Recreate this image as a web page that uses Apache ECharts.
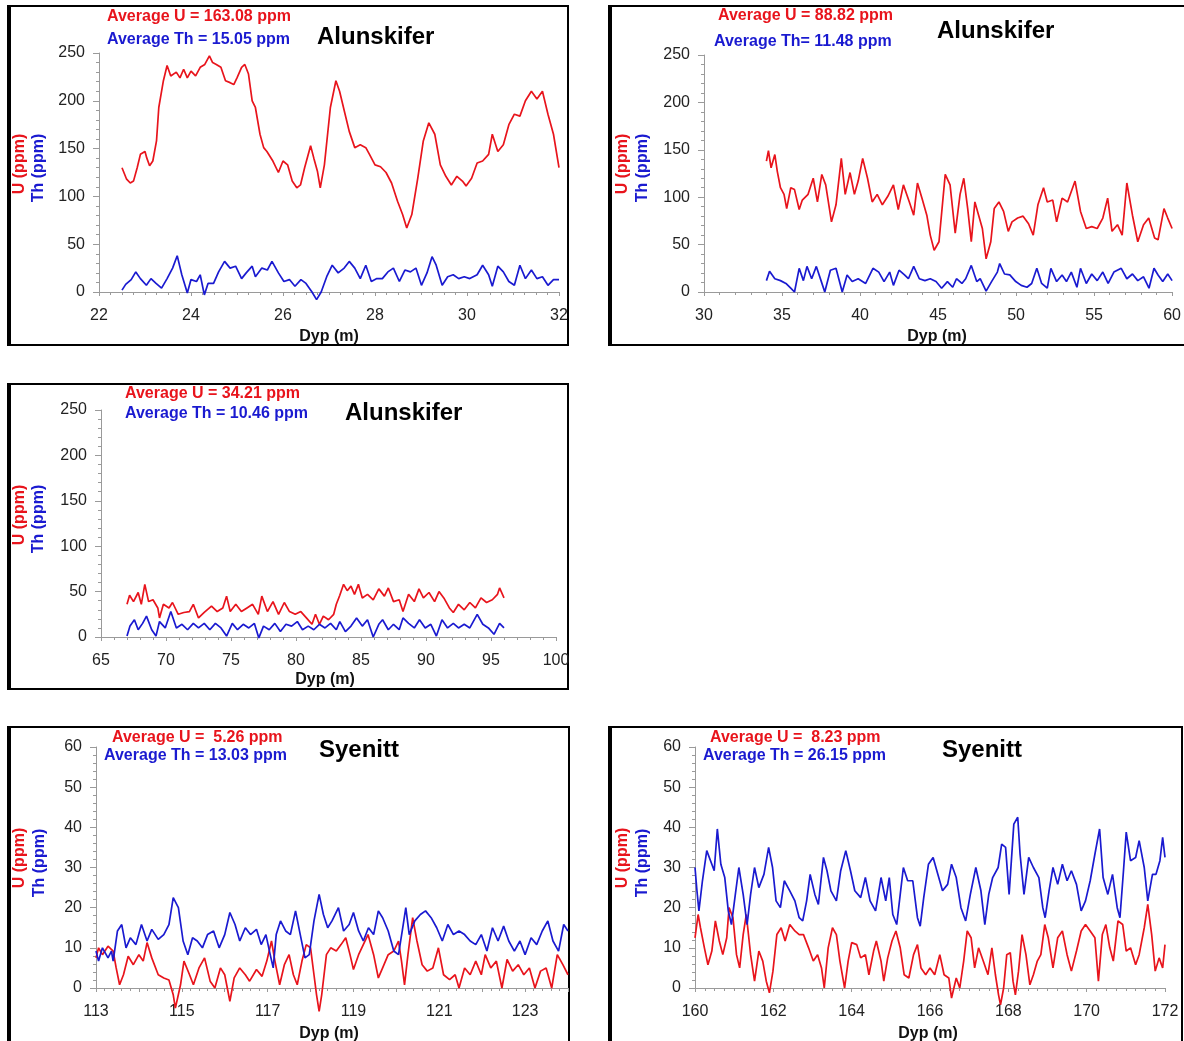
<!DOCTYPE html>
<html>
<head>
<meta charset="utf-8">
<title>U og Th langs borehull</title>
<script src="https://cdn.jsdelivr.net/npm/echarts@6/dist/echarts.min.js"></script>
<style>
  html, body { margin: 0; padding: 0; background: #fff; }
  #chart { width: 1184px; height: 1041px; }
</style>
</head>
<body>
<div id="chart"></div>
<script>
// ---------- Panel 1: Alunskifer, 22–32 m ----------
const p1UDepth = [22.5,22.6,22.68,22.75,22.83,22.9,23.0,23.04,23.1,23.17,23.25,23.3,23.4,23.48,23.56,23.68,23.76,23.84,23.92,24.0,24.1,24.2,24.3,24.4,24.47,24.55,24.65,24.75,24.85,24.93,25.0,25.1,25.17,25.25,25.33,25.4,25.5,25.58,25.65,25.78,25.9,26.0,26.1,26.2,26.3,26.38,26.47,26.6,26.67,26.75,26.81,26.9,27.03,27.15,27.23,27.35,27.44,27.56,27.68,27.8,27.88,28.0,28.12,28.24,28.36,28.49,28.6,28.69,28.8,28.93,29.05,29.17,29.3,29.42,29.54,29.66,29.78,29.9,29.98,30.1,30.22,30.34,30.47,30.55,30.67,30.79,30.91,31.03,31.15,31.27,31.4,31.52,31.64,31.76,31.88,32.0];
const p1U = [130,118,114,116,130,144,147,140,132,137,158,193,221,237,226,230,224,233,224,231,226,235,238,247,240,238,235,221,219,217,224,235,238,228,200,193,165,151,147,137,125,137,133,116,109,112,130,153,140,126,109,133,193,221,210,186,168,151,154,151,144,133,131,125,114,95,81,67,81,119,158,177,165,133,121,112,121,116,111,119,135,137,144,165,147,154,175,186,184,200,210,202,210,186,165,130];
const p1ThDepth = [22.5,22.58,22.7,22.8,22.9,23.03,23.13,23.24,23.36,23.48,23.6,23.7,23.8,23.92,24.0,24.12,24.2,24.29,24.37,24.49,24.6,24.73,24.85,24.97,25.1,25.2,25.33,25.4,25.54,25.66,25.76,25.9,26.02,26.14,26.26,26.39,26.5,26.63,26.73,26.83,26.95,27.07,27.2,27.33,27.44,27.56,27.68,27.8,27.92,28.04,28.16,28.28,28.4,28.53,28.65,28.77,28.89,29.01,29.13,29.24,29.33,29.46,29.58,29.7,29.82,29.94,30.06,30.22,30.34,30.47,30.55,30.67,30.79,30.91,31.03,31.15,31.27,31.4,31.52,31.64,31.76,31.88,32.0];
const p1Th = [2,8,13,21,14,7,14,9,4,14,25,38,18,-1,13,11,18,-3,9,9,21,32,25,27,14,20,27,16,25,23,32,20,11,13,6,13,9,0,-8,0,16,28,20,25,32,25,14,28,11,14,14,21,25,11,23,21,25,7,20,37,28,7,16,18,14,16,14,18,28,18,6,27,21,11,7,28,14,23,14,16,7,13,13];

// ---------- Panel 2: Alunskifer, 30–60 m ----------
const p2UDepth = [34.0,34.13,34.3,34.54,34.7,34.9,35.13,35.3,35.56,35.8,36.1,36.3,36.67,37.0,37.27,37.55,37.8,38.17,38.46,38.8,39.05,39.36,39.64,39.88,40.17,40.48,40.78,41.1,41.43,41.78,42.14,42.45,42.78,43.16,43.44,43.68,43.97,44.28,44.5,44.75,45.06,45.46,45.77,46.1,46.41,46.65,46.9,47.13,47.36,47.6,47.84,48.08,48.38,48.6,48.9,49.2,49.5,49.74,50.1,50.45,50.8,51.1,51.4,51.76,52.0,52.35,52.6,52.95,53.3,53.78,54.13,54.5,54.85,55.2,55.56,55.87,56.15,56.5,56.8,57.1,57.46,57.8,58.17,58.5,58.88,59.1,59.48,59.72,60.0];
const p2U = [138,149,131,145,127,110,103,88,110,108,87,97,103,120,95,124,113,74,92,141,103,126,103,117,141,120,95,103,92,101,113,87,113,95,81,115,99,81,60,44,53,124,113,62,103,120,88,53,95,81,67,35,53,88,95,85,64,74,78,80,72,60,92,110,95,97,74,99,95,117,85,67,69,67,78,99,64,71,60,115,81,53,71,78,57,55,88,78,67];
const p2ThDepth = [34.0,34.2,34.54,34.9,35.25,35.56,35.8,36.1,36.37,36.6,36.9,37.2,37.5,37.74,38.1,38.46,38.86,39.17,39.5,39.88,40.36,40.83,41.2,41.54,41.9,42.14,42.5,42.85,43.1,43.44,43.8,44.16,44.5,44.87,45.23,45.6,45.94,46.18,46.53,46.77,47.13,47.48,47.7,48.08,48.43,48.8,48.95,49.26,49.6,49.98,50.33,50.7,51.0,51.33,51.64,52.0,52.23,52.6,52.95,53.23,53.54,53.9,54.13,54.5,54.85,55.2,55.56,55.9,56.27,56.74,57.1,57.46,57.8,58.17,58.52,58.84,59.1,59.4,59.72,60.0];
const p2Th = [12,22,14,12,9,4,0,25,12,27,14,27,12,0,23,25,0,18,11,14,9,25,21,11,21,7,23,18,14,27,14,12,14,11,4,11,5,14,9,14,28,11,14,1,11,21,30,19,18,11,7,5,9,25,9,4,25,11,18,11,21,5,25,9,19,12,21,9,21,25,14,19,12,16,4,25,18,11,19,12];

// ---------- Panel 3: Alunskifer, 65–100 m ----------
const p3UDepth = [67.0,67.2,67.5,67.86,68.1,68.37,68.66,69.0,69.37,69.5,69.8,70.23,70.5,70.94,71.37,71.8,72.1,72.5,72.94,73.5,73.94,74.37,74.66,74.94,75.37,75.8,76.23,76.66,77.1,77.37,77.8,78.23,78.66,79.1,79.5,79.94,80.37,80.8,81.23,81.5,81.8,82.1,82.5,82.9,83.1,83.37,83.66,83.94,84.23,84.5,84.8,85.1,85.5,85.94,86.37,86.8,87.1,87.5,87.94,88.23,88.66,89.1,89.46,89.8,90.23,90.66,91.0,91.37,91.8,92.1,92.5,92.94,93.37,93.8,94.23,94.66,95.1,95.5,95.66,96.0];
const p3U = [36,46,39,49,36,58,39,41,32,21,36,32,38,25,27,28,36,21,27,34,28,32,45,28,36,28,32,36,25,45,28,39,25,38,28,25,28,21,14,25,14,23,19,25,36,46,58,51,56,47,58,43,47,41,53,45,54,39,41,28,47,39,53,43,49,39,50,43,32,27,36,30,38,32,43,38,41,47,54,43];
const p3ThDepth = [67.0,67.23,67.57,67.86,68.2,68.5,68.9,69.23,69.5,69.94,70.37,70.8,71.23,71.66,72.1,72.5,72.94,73.37,73.8,74.23,74.66,75.1,75.5,75.94,76.37,76.8,77.14,77.5,77.94,78.37,78.8,79.23,79.66,80.1,80.5,80.94,81.37,81.8,82.23,82.66,83.1,83.37,83.8,84.23,84.66,85.1,85.5,85.94,86.37,86.66,87.1,87.5,87.94,88.23,88.66,89.1,89.5,89.94,90.37,90.8,91.23,91.66,92.1,92.5,92.94,93.37,93.94,94.37,94.8,95.23,95.66,96.0];
const p3Th = [1,12,19,8,15,23,8,1,17,10,28,10,14,8,15,10,15,8,15,10,1,15,8,14,10,15,-1,12,8,15,6,14,12,17,8,12,8,14,10,15,8,17,6,12,21,12,19,0,14,19,8,14,8,21,15,10,19,10,14,1,19,10,15,10,14,10,25,14,10,3,15,10];

// ---------- Panel 4: Syenitt, 113–124 m ----------
const p4UDepth = [113.0,113.06,113.15,113.28,113.4,113.47,113.55,113.64,113.75,113.87,114.0,114.1,114.19,114.3,114.45,114.58,114.7,114.8,114.85,114.97,115.05,115.18,115.27,115.4,115.53,115.66,115.77,115.9,116.0,116.12,116.22,116.35,116.48,116.58,116.74,116.87,116.98,117.09,117.17,117.28,117.39,117.5,117.6,117.69,117.8,117.9,118.0,118.08,118.14,118.2,118.26,118.37,118.47,118.6,118.71,118.82,118.92,119.0,119.12,119.23,119.34,119.47,119.58,119.68,119.81,119.94,120.05,120.12,120.19,120.27,120.38,120.48,120.6,120.72,120.85,120.98,121.1,121.24,121.37,121.46,121.59,121.72,121.85,121.98,122.07,122.2,122.33,122.46,122.58,122.71,122.84,122.97,123.1,123.23,123.36,123.49,123.62,123.75,123.88,124.0];
const p4U = [7.5,10,8.3,10.4,9.2,5,0.8,3.3,7.9,5.8,8.3,6.7,11.3,7.5,3.3,2.5,2,-1.7,-5,0.8,6.7,3.3,0.8,5,7.5,1.7,0,5,3.3,-3.3,2.5,5,3.3,1.7,4.6,2.9,6.7,11.7,6.7,0.8,5.8,8.3,3.3,0.8,6.7,10.8,10,3.3,-1.7,-5.8,-1.7,8.3,10,9.2,10.8,12.5,8.3,4.6,8.3,10.8,13.3,8.3,2.5,5,8.3,9.2,11.7,6.7,0.8,8.3,17.5,11.7,5.8,4.2,5,10,3.3,2.1,3.3,0,5,3.3,6.7,3.3,8.3,5,6.7,0,7.1,4.2,5.8,3.3,5,0,4.2,5,0,8.3,5.8,3.3];
const p4ThDepth = [113.0,113.06,113.15,113.28,113.36,113.4,113.5,113.6,113.7,113.8,113.93,114.06,114.19,114.3,114.45,114.58,114.7,114.8,114.92,115.03,115.14,115.25,115.36,115.48,115.6,115.74,115.87,116.0,116.12,116.24,116.35,116.48,116.6,116.74,116.85,116.96,117.06,117.13,117.2,117.3,117.42,117.53,117.65,117.76,117.87,117.97,118.08,118.2,118.3,118.4,118.5,118.65,118.77,118.9,119.0,119.12,119.23,119.35,119.47,119.58,119.68,119.81,119.94,120.05,120.16,120.22,120.3,120.43,120.56,120.68,120.81,120.94,121.07,121.2,121.33,121.46,121.59,121.72,121.85,121.98,122.11,122.24,122.37,122.5,122.62,122.75,122.88,123.0,123.14,123.27,123.4,123.53,123.65,123.78,123.9,124.0];
const p4Th = [9.2,6.7,10,7.5,9.2,6.7,14.2,15.8,10,12.5,10.8,15.8,11.7,14.6,12.1,13.3,15.8,22.5,20,11.7,8.3,12.5,11.7,10,13.3,14.2,10,13.3,18.8,15.8,11.7,15,13.3,14.6,10.8,13.3,8.3,5,13.3,16.7,14.2,13.3,19.2,13.3,7.5,8.3,16.7,23.3,18.3,15,16.7,20,14.2,15.8,18.8,14.2,11.7,15,13.3,19.2,17.5,14.2,9.2,8.3,15.8,20,13.3,16.7,18.3,19.2,17.5,15,11.7,15.8,13.3,14.2,13.3,11.7,10.8,13.3,9.2,15,11.7,15.4,11.7,9.2,11.7,8.3,12.5,10.8,14.2,16.7,11.7,9.2,15.8,14.2];

// ---------- Panel 5: Syenitt, 160–172 m ----------
const p5UDepth = [160.0,160.08,160.14,160.24,160.33,160.43,160.52,160.62,160.71,160.81,160.87,160.97,161.06,161.14,161.23,161.31,161.42,161.52,161.63,161.73,161.82,161.9,161.99,162.09,162.2,162.3,162.42,162.55,162.66,162.77,162.9,163.02,163.13,163.23,163.3,163.4,163.51,163.61,163.7,163.82,163.91,164.0,164.13,164.23,164.35,164.44,164.56,164.63,164.75,164.82,164.92,165.03,165.13,165.24,165.34,165.46,165.58,165.68,165.77,165.89,166.0,166.12,166.25,166.36,166.48,166.55,166.67,166.76,166.86,166.95,167.05,167.14,167.24,167.36,167.48,167.58,167.67,167.75,167.8,167.88,167.96,168.05,168.12,168.18,168.26,168.35,168.45,168.55,168.64,168.74,168.83,168.93,169.02,169.14,169.26,169.38,169.5,169.61,169.74,169.86,169.97,170.09,170.21,170.3,170.4,170.49,170.59,170.68,170.8,170.92,171.01,171.12,171.25,171.34,171.47,171.56,171.66,171.75,171.85,171.94,172.0];
const p5U = [12.5,18.3,15,10,5.8,9.2,16.7,11.7,8.3,12.5,20,17.5,8.3,5,13.3,18.3,8.3,1.7,9.2,6.7,1.7,-1.2,4.2,13.3,15,11.7,15.8,14.2,13.3,13.3,10,6.7,8.3,5,0,10,15,13.3,6.7,0,6.7,11.3,10.8,7.5,8.3,3.3,9.2,11.7,6.7,1.7,7.5,11.7,14.2,10,3.3,2.5,8.3,10.8,5,3.3,5,3.3,8.3,3.3,2.5,-2.5,2.5,0,6.7,14.2,12.5,5,10,6.7,3.3,10,3.3,-1.7,-4.2,0,8.3,8.8,1.7,-1.7,4.2,13.3,8.3,0.8,3.3,6.7,8.3,15.8,12.5,5,12.5,14.2,8.3,4.2,9.2,14.2,15.8,14.2,12.5,1.7,13.3,15.8,10,6.7,16.7,15.8,9.2,10,5.8,8.3,15,20.8,13.3,4.2,7.5,5,10.8];
const p5ThDepth = [160.0,160.05,160.1,160.19,160.3,160.43,160.49,160.57,160.66,160.76,160.85,160.93,161.03,161.12,161.23,161.33,161.42,161.52,161.63,161.76,161.88,161.98,162.07,162.18,162.28,162.42,162.55,162.66,162.75,162.85,162.94,163.06,163.15,163.28,163.37,163.47,163.61,163.72,163.85,163.97,164.08,164.23,164.35,164.47,164.61,164.75,164.87,164.96,165.05,165.15,165.24,165.32,165.43,165.56,165.68,165.75,165.84,165.96,166.08,166.2,166.32,166.45,166.55,166.67,166.79,166.91,167.03,167.17,167.3,167.4,167.5,167.6,167.74,167.83,167.93,168.02,168.14,168.24,168.3,168.4,168.52,168.64,168.78,168.88,168.94,169.04,169.14,169.26,169.38,169.5,169.61,169.74,169.86,169.97,170.09,170.21,170.33,170.42,170.54,170.66,170.78,170.85,170.94,171.01,171.12,171.25,171.34,171.47,171.56,171.68,171.77,171.87,171.94,172.0];
const p5Th = [30,24.2,19.2,26.7,34.2,30.8,29.2,39.6,30.8,27.5,19.2,15.8,23.3,30,23.3,15.8,23.3,30,25,28.3,35,30,21.7,20,26.7,24.2,21.7,17.5,16.7,21.7,28.3,23.3,20.8,32.5,29.2,24.2,21.7,29.2,34.2,29.2,24.2,22.5,27.5,21.7,19.2,27.5,21.7,27.5,18.3,15.8,23.3,30,26.7,26.7,17.5,15.4,22.5,30.8,32.5,28.3,24.2,25.8,30.8,27.5,20,16.7,23.3,30,24.2,15.8,23.3,27.5,30,35.8,35,23.3,40.8,42.5,33.3,23.3,32.5,30,27.5,20,17.5,24.2,30,25.8,30.8,26.7,29.2,25.8,19.2,21.7,26.7,33.3,39.6,27.5,23.3,28.3,20,17.5,29.2,38.8,31.7,32.5,36.7,30,21.7,28.3,28.3,31.7,37.5,32.5];

// ---------- Panel texts ----------
const panelTitles = ['Alunskifer', 'Alunskifer', 'Alunskifer', 'Syenitt', 'Syenitt'];
const avgULabels = ['Average U = 163.08 ppm', 'Average U = 88.82 ppm', 'Average U = 34.21 ppm', 'Average U =  5.26 ppm', 'Average U =  8.23 ppm'];
const avgThLabels = ['Average Th = 15.05 ppm', 'Average Th= 11.48 ppm', 'Average Th = 10.46 ppm', 'Average Th = 13.03 ppm', 'Average Th = 26.15 ppm'];

// Depth axis ranges
const xMins = [22, 30, 65, 113, 160];
const xMaxs = [32, 60, 100, 124, 172];
const xSteps = [2, 5, 5, 1, 2];
const xMinorSplits = [8, 5, 5, 5, 8];
// Concentration axis ranges
const yMaxs = [250, 250, 250, 60, 60];
const ySteps = [50, 50, 50, 10, 10];

const RED = '#e8141c';
const BLUE = '#1a1ad0';
const FONT = 'Arial, "Liberation Sans", Helvetica, sans-serif';

// Plot area of each panel (pixels)
const grids = [
  { left: 99, top: 53, width: 460, height: 239 },
  { left: 704, top: 55, width: 470, height: 237 },
  { left: 101, top: 410, width: 455, height: 227 },
  { left: 96, top: 747, width: 472, height: 241 },
  { left: 695, top: 747, width: 470, height: 241 }
];

// Text placement per panel
const layout = [
  { frame: [8, 6, 560, 339], avgU: [107, 17], avgTh: [107, 40], title: [317, 37], uName: [20, 164], thName: [39, 168], xName: [329, 337] },
  { frame: [609, 6, 600, 339], avgU: [718, 16], avgTh: [714, 42], title: [937, 31], uName: [623, 164], thName: [643, 168], xName: [937, 337] },
  { frame: [8, 384, 560, 305], avgU: [125, 394], avgTh: [125, 414], title: [345, 413], uName: [20, 515], thName: [39, 519], xName: [325, 680] },
  { frame: [8, 727, 561, 330], avgU: [112, 738], avgTh: [104, 756], title: [319, 750], uName: [20, 858], thName: [40, 863], xName: [329, 1034] },
  { frame: [609, 727, 573, 330], avgU: [710, 738], avgTh: [703, 756], title: [942, 750], uName: [623, 858], thName: [643, 863], xName: [928, 1034] }
];

const uDepths = [p1UDepth, p2UDepth, p3UDepth, p4UDepth, p5UDepth];
const uValues = [p1U, p2U, p3U, p4U, p5U];
const thDepths = [p1ThDepth, p2ThDepth, p3ThDepth, p4ThDepth, p5ThDepth];
const thValues = [p1Th, p2Th, p3Th, p4Th, p5Th];

function pairs(xs, ys) {
  return xs.map((x, i) => [x, ys[i]]);
}

const axisGray = '#9a9a9a';
const xAxes = [], yAxes = [], series = [], graphic = [];

grids.forEach((g, i) => {
  xAxes.push({
    type: 'value', gridIndex: i,
    min: xMins[i], max: xMaxs[i], interval: xSteps[i],
    axisLine: { onZero: false, lineStyle: { color: axisGray, width: 1 } },
    axisTick: { show: true, length: 4, lineStyle: { color: axisGray } },
    minorTick: { show: true, splitNumber: xMinorSplits[i], length: 3, lineStyle: { color: axisGray } },
    splitLine: { show: false },
    axisLabel: {
      color: '#222', fontSize: 16, fontFamily: FONT, margin: 16,
      showMinLabel: true, showMaxLabel: true,
      formatter: i === 3 ? (v) => ((v - xMins[3]) % 2 === 0 && v < xMaxs[3] ? String(v) : '') : (v) => String(v)
    }
  });
  yAxes.push({
    type: 'value', gridIndex: i,
    min: 0, max: yMaxs[i], interval: ySteps[i],
    axisLine: { show: true, lineStyle: { color: axisGray, width: 1 } },
    axisTick: { show: true, length: 6, lineStyle: { color: axisGray } },
    minorTick: { show: true, splitNumber: 5, length: 3, lineStyle: { color: axisGray } },
    splitLine: { show: false },
    axisLabel: { color: '#222', fontSize: 16, fontFamily: FONT, margin: 14 }
  });
  series.push({
    type: 'line', name: 'U', xAxisIndex: i, yAxisIndex: i,
    data: pairs(uDepths[i], uValues[i]),
    showSymbol: false, clip: false, animation: false,
    lineStyle: { color: RED, width: 1.7 }, itemStyle: { color: RED }
  });
  series.push({
    type: 'line', name: 'Th', xAxisIndex: i, yAxisIndex: i,
    data: pairs(thDepths[i], thValues[i]),
    showSymbol: false, clip: false, animation: false,
    lineStyle: { color: BLUE, width: 1.7 }, itemStyle: { color: BLUE }
  });

  const L = layout[i];
  const [fx, fy, fw, fh] = L.frame;
  // Panel frame, heavier on the left edge
  graphic.push({ type: 'rect', silent: true, shape: { x: fx, y: fy, width: fw, height: fh },
    style: { fill: 'none', stroke: '#000', lineWidth: 2 } });
  graphic.push({ type: 'line', silent: true, shape: { x1: fx + 1, y1: fy, x2: fx + 1, y2: fy + fh },
    style: { stroke: '#000', lineWidth: 4 } });

  graphic.push({ type: 'text', silent: true, x: L.avgU[0], y: L.avgU[1],
    style: { text: avgULabels[i], fill: RED, font: 'bold 16px ' + FONT, textAlign: 'left', textVerticalAlign: 'middle' } });
  graphic.push({ type: 'text', silent: true, x: L.avgTh[0], y: L.avgTh[1],
    style: { text: avgThLabels[i], fill: BLUE, font: 'bold 16px ' + FONT, textAlign: 'left', textVerticalAlign: 'middle' } });
  graphic.push({ type: 'text', silent: true, x: L.title[0], y: L.title[1],
    style: { text: panelTitles[i], fill: '#000', font: 'bold 24px ' + FONT, textAlign: 'left', textVerticalAlign: 'middle' } });
  graphic.push({ type: 'text', silent: true, x: L.uName[0], y: L.uName[1], rotation: Math.PI / 2,
    style: { text: 'U (ppm)', fill: RED, font: 'bold 16px ' + FONT, textAlign: 'center', textVerticalAlign: 'middle' } });
  graphic.push({ type: 'text', silent: true, x: L.thName[0], y: L.thName[1], rotation: Math.PI / 2,
    style: { text: 'Th (ppm)', fill: BLUE, font: 'bold 16px ' + FONT, textAlign: 'center', textVerticalAlign: 'middle' } });
  graphic.push({ type: 'text', silent: true, x: L.xName[0], y: L.xName[1],
    style: { text: 'Dyp (m)', fill: '#111', font: 'bold 16px ' + FONT, textAlign: 'center', textVerticalAlign: 'middle' } });
});

const chart = echarts.init(document.getElementById('chart'), null, { renderer: 'canvas' });
chart.setOption({
  backgroundColor: '#ffffff',
  animation: false,
  grid: grids.map(g => Object.assign({ containLabel: false }, g)),
  xAxis: xAxes,
  yAxis: yAxes,
  series: series,
  graphic: graphic
});
</script>
</body>
</html>
